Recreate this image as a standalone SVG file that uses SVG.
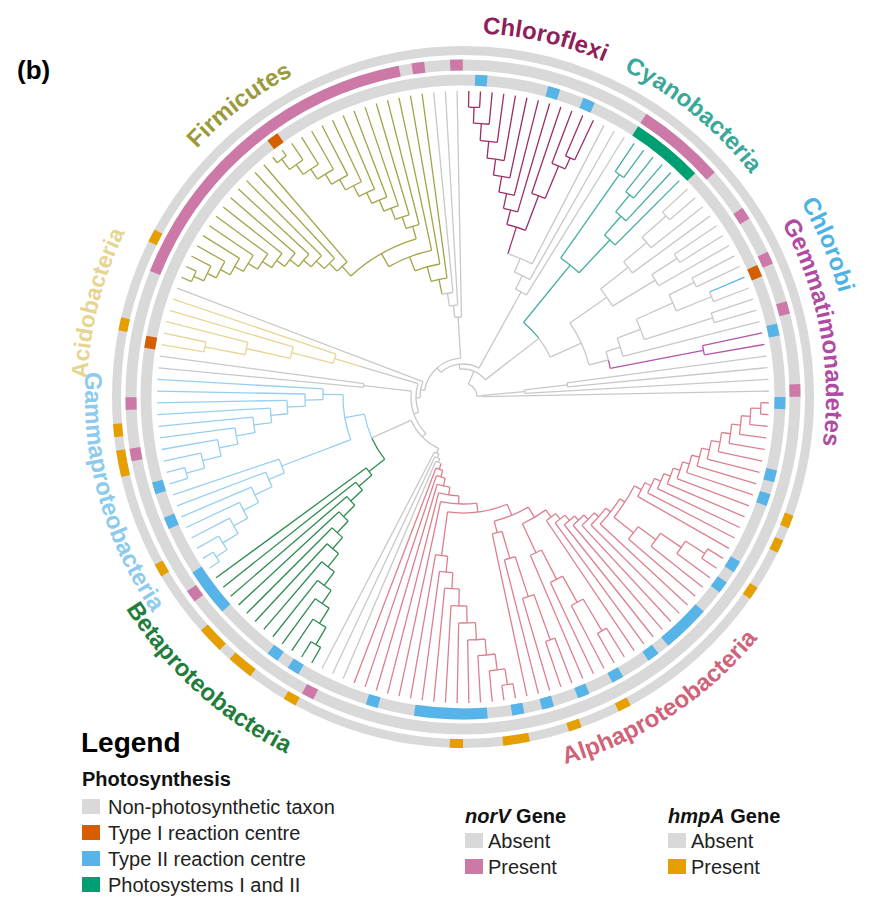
<svg xmlns="http://www.w3.org/2000/svg" width="880" height="924" viewBox="0 0 880 924">
<style>
text{font-family:"Liberation Sans",Arial,Helvetica,sans-serif}
.lab{font-size:24px;font-weight:bold}
#tree path,#tree circle{fill:none;stroke-width:1.3}
.rg{fill:none;stroke:#d9d9d9}
.lg{font-size:20px;fill:#222}
.lh{font-size:20px;font-weight:bold;fill:#111}
</style>
<defs>
<path id="cw364" d="M0 364A364 364 0 1 1 0 -364A364 364 0 1 1 0 364"/>
<path id="cw363" d="M0 363A363 363 0 1 1 0 -363A363 363 0 1 1 0 363"/>
<path id="cw376" d="M0 376A376 376 0 1 1 0 -376A376 376 0 1 1 0 376"/>
<path id="cw390" d="M0 390A390 390 0 1 1 0 -390A390 390 0 1 1 0 390"/>
<path id="ccw378" d="M0 -378A378 378 0 1 0 0 378A378 378 0 1 0 0 -378"/>
<path id="ccw398" d="M0 -398A398 398 0 1 0 0 398A398 398 0 1 0 0 -398"/>
<path id="ccw381" d="M0 -381A381 381 0 1 0 0 381A381 381 0 1 0 0 -381"/>
</defs>
<rect width="880" height="924" fill="#fff"/>
<text x="17" y="79" font-size="26" font-weight="bold">(b)</text>

<g id="tree" transform="translate(463 397)">
<g id="alpha" stroke="#dd7f8d">
<path d="M298 0H306" transform="rotate(1.1)"/><path d="M298 0H306" transform="rotate(3.3)"/><path d="M288 0H306" transform="rotate(5.49)"/><path d="M279 0H306" transform="rotate(7.69)"/><path d="M270 0H306" transform="rotate(9.88)"/><path d="M261 0H306" transform="rotate(12.08)"/><path d="M252 0H306" transform="rotate(14.27)"/><path d="M244 0H306" transform="rotate(16.47)"/><path d="M236 0H306" transform="rotate(18.66)"/><path d="M229 0H306" transform="rotate(20.86)"/><path d="M222 0H306" transform="rotate(23.05)"/><path d="M215 0H306" transform="rotate(25.25)"/><path d="M208 0H306" transform="rotate(27.44)"/><path d="M201 0H306" transform="rotate(29.64)"/><path d="M288 0H306" transform="rotate(31.83)"/><path d="M288 0H306" transform="rotate(34.03)"/><path d="M265 0H306" transform="rotate(36.22)"/><path d="M240 0H306" transform="rotate(38.42)"/><path d="M218 0H306" transform="rotate(40.61)"/><path d="M187 0H306" transform="rotate(42.81)"/><path d="M181 0H306" transform="rotate(45)"/><path d="M175 0H306" transform="rotate(47.2)"/><path d="M169 0H306" transform="rotate(49.39)"/><path d="M163 0H306" transform="rotate(51.59)"/><path d="M156 0H306" transform="rotate(53.78)"/><path d="M149 0H306" transform="rotate(55.98)"/><path d="M272 0H306" transform="rotate(58.17)"/><path d="M272 0H306" transform="rotate(60.37)"/><path d="M235 0H306" transform="rotate(62.56)"/><path d="M205 0H306" transform="rotate(64.76)"/><path d="M172 0H306" transform="rotate(66.95)"/><path d="M258 0H306" transform="rotate(69.15)"/><path d="M258 0H306" transform="rotate(71.34)"/><path d="M210 0H306" transform="rotate(73.54)"/><path d="M168 0H306" transform="rotate(75.73)"/><path d="M140 0H306" transform="rotate(77.93)"/><path d="M291 0H306" transform="rotate(80.12)"/><path d="M291 0H306" transform="rotate(82.32)"/><path d="M275 0H306" transform="rotate(84.51)"/><path d="M259 0H306" transform="rotate(86.71)"/><path d="M243 0H306" transform="rotate(88.9)"/><path d="M226 0H306" transform="rotate(91.1)"/><path d="M209 0H306" transform="rotate(93.29)"/><path d="M192 0H306" transform="rotate(95.49)"/><path d="M176 0H306" transform="rotate(97.68)"/><path d="M160 0H306" transform="rotate(99.88)"/><path d="M107 0H306" transform="rotate(102.07)"/><path d="M99 0H306" transform="rotate(104.27)"/><path d="M91 0H306" transform="rotate(106.46)"/><path d="M83 0H306" transform="rotate(108.66)"/><path d="M76 0H306" transform="rotate(110.85)"/>
<path d="M288 0H298" transform="rotate(2.2)"/><path d="M279 0H288" transform="rotate(3.85)"/><path d="M270 0H279" transform="rotate(5.77)"/><path d="M261 0H270" transform="rotate(7.82)"/><path d="M252 0H261" transform="rotate(9.95)"/><path d="M244 0H252" transform="rotate(12.11)"/><path d="M236 0H244" transform="rotate(14.29)"/><path d="M229 0H236" transform="rotate(16.48)"/><path d="M222 0H229" transform="rotate(18.67)"/><path d="M215 0H222" transform="rotate(20.86)"/><path d="M208 0H215" transform="rotate(23.05)"/><path d="M201 0H208" transform="rotate(25.25)"/><path d="M193 0H201" transform="rotate(27.44)"/><path d="M265 0H288" transform="rotate(32.93)"/><path d="M240 0H265" transform="rotate(34.58)"/><path d="M218 0H240" transform="rotate(36.5)"/><path d="M193 0H218" transform="rotate(38.55)"/><path d="M187 0H193" transform="rotate(33)"/><path d="M181 0H187" transform="rotate(37.9)"/><path d="M175 0H181" transform="rotate(41.45)"/><path d="M169 0H175" transform="rotate(44.32)"/><path d="M163 0H169" transform="rotate(46.86)"/><path d="M156 0H163" transform="rotate(49.22)"/><path d="M149 0H156" transform="rotate(51.5)"/><path d="M140 0H149" transform="rotate(53.74)"/><path d="M235 0H272" transform="rotate(59.27)"/><path d="M205 0H235" transform="rotate(60.92)"/><path d="M172 0H205" transform="rotate(62.84)"/><path d="M140 0H172" transform="rotate(64.89)"/><path d="M128 0H140" transform="rotate(59.32)"/><path d="M210 0H258" transform="rotate(70.24)"/><path d="M168 0H210" transform="rotate(71.89)"/><path d="M140 0H168" transform="rotate(73.81)"/><path d="M128 0H140" transform="rotate(75.87)"/><path d="M116 0H128" transform="rotate(67.59)"/><path d="M275 0H291" transform="rotate(81.22)"/><path d="M259 0H275" transform="rotate(82.87)"/><path d="M243 0H259" transform="rotate(84.79)"/><path d="M226 0H243" transform="rotate(86.84)"/><path d="M209 0H226" transform="rotate(88.97)"/><path d="M192 0H209" transform="rotate(91.13)"/><path d="M176 0H192" transform="rotate(93.31)"/><path d="M160 0H176" transform="rotate(95.5)"/><path d="M116 0H160" transform="rotate(97.69)"/><path d="M107 0H116" transform="rotate(82.64)"/><path d="M99 0H107" transform="rotate(92.36)"/><path d="M91 0H99" transform="rotate(98.31)"/><path d="M83 0H91" transform="rotate(102.39)"/><path d="M76 0H83" transform="rotate(105.52)"/><path d="M70 0H76" transform="rotate(108.19)"/>
<circle r="298" pathLength="360" stroke-dasharray="2.2 400" transform="rotate(1.1)"/><circle r="288" pathLength="360" stroke-dasharray="3.29 400" transform="rotate(2.2)"/><circle r="279" pathLength="360" stroke-dasharray="3.84 400" transform="rotate(3.85)"/><circle r="270" pathLength="360" stroke-dasharray="4.11 400" transform="rotate(5.77)"/><circle r="261" pathLength="360" stroke-dasharray="4.26 400" transform="rotate(7.82)"/><circle r="252" pathLength="360" stroke-dasharray="4.32 400" transform="rotate(9.95)"/><circle r="244" pathLength="360" stroke-dasharray="4.36 400" transform="rotate(12.11)"/><circle r="236" pathLength="360" stroke-dasharray="4.37 400" transform="rotate(14.29)"/><circle r="229" pathLength="360" stroke-dasharray="4.38 400" transform="rotate(16.48)"/><circle r="222" pathLength="360" stroke-dasharray="4.38 400" transform="rotate(18.67)"/><circle r="215" pathLength="360" stroke-dasharray="4.39 400" transform="rotate(20.86)"/><circle r="208" pathLength="360" stroke-dasharray="4.39 400" transform="rotate(23.05)"/><circle r="201" pathLength="360" stroke-dasharray="4.39 400" transform="rotate(25.25)"/><circle r="288" pathLength="360" stroke-dasharray="2.2 400" transform="rotate(31.83)"/><circle r="265" pathLength="360" stroke-dasharray="3.29 400" transform="rotate(32.93)"/><circle r="240" pathLength="360" stroke-dasharray="3.84 400" transform="rotate(34.58)"/><circle r="218" pathLength="360" stroke-dasharray="4.11 400" transform="rotate(36.5)"/><circle r="193" pathLength="360" stroke-dasharray="11.11 400" transform="rotate(27.44)"/><circle r="187" pathLength="360" stroke-dasharray="9.81 400" transform="rotate(33)"/><circle r="181" pathLength="360" stroke-dasharray="7.1 400" transform="rotate(37.9)"/><circle r="175" pathLength="360" stroke-dasharray="5.75 400" transform="rotate(41.45)"/><circle r="169" pathLength="360" stroke-dasharray="5.07 400" transform="rotate(44.32)"/><circle r="163" pathLength="360" stroke-dasharray="4.73 400" transform="rotate(46.86)"/><circle r="156" pathLength="360" stroke-dasharray="4.56 400" transform="rotate(49.22)"/><circle r="149" pathLength="360" stroke-dasharray="4.48 400" transform="rotate(51.5)"/><circle r="272" pathLength="360" stroke-dasharray="2.2 400" transform="rotate(58.17)"/><circle r="235" pathLength="360" stroke-dasharray="3.29 400" transform="rotate(59.27)"/><circle r="205" pathLength="360" stroke-dasharray="3.84 400" transform="rotate(60.92)"/><circle r="172" pathLength="360" stroke-dasharray="4.11 400" transform="rotate(62.84)"/><circle r="140" pathLength="360" stroke-dasharray="11.15 400" transform="rotate(53.74)"/><circle r="258" pathLength="360" stroke-dasharray="2.2 400" transform="rotate(69.15)"/><circle r="210" pathLength="360" stroke-dasharray="3.3 400" transform="rotate(70.24)"/><circle r="168" pathLength="360" stroke-dasharray="3.84 400" transform="rotate(71.89)"/><circle r="140" pathLength="360" stroke-dasharray="4.12 400" transform="rotate(73.81)"/><circle r="128" pathLength="360" stroke-dasharray="16.55 400" transform="rotate(59.32)"/><circle r="291" pathLength="360" stroke-dasharray="2.2 400" transform="rotate(80.12)"/><circle r="275" pathLength="360" stroke-dasharray="3.29 400" transform="rotate(81.22)"/><circle r="259" pathLength="360" stroke-dasharray="3.84 400" transform="rotate(82.87)"/><circle r="243" pathLength="360" stroke-dasharray="4.11 400" transform="rotate(84.79)"/><circle r="226" pathLength="360" stroke-dasharray="4.26 400" transform="rotate(86.84)"/><circle r="209" pathLength="360" stroke-dasharray="4.32 400" transform="rotate(88.97)"/><circle r="192" pathLength="360" stroke-dasharray="4.36 400" transform="rotate(91.13)"/><circle r="176" pathLength="360" stroke-dasharray="4.37 400" transform="rotate(93.31)"/><circle r="160" pathLength="360" stroke-dasharray="4.38 400" transform="rotate(95.5)"/><circle r="116" pathLength="360" stroke-dasharray="30.1 400" transform="rotate(67.59)"/><circle r="107" pathLength="360" stroke-dasharray="19.43 400" transform="rotate(82.64)"/><circle r="99" pathLength="360" stroke-dasharray="11.91 400" transform="rotate(92.36)"/><circle r="91" pathLength="360" stroke-dasharray="8.15 400" transform="rotate(98.31)"/><circle r="83" pathLength="360" stroke-dasharray="6.27 400" transform="rotate(102.39)"/><circle r="76" pathLength="360" stroke-dasharray="5.33 400" transform="rotate(105.52)"/>
</g>
<g id="beta" stroke="#2e8b4f">
<path d="M288 0H306" transform="rotate(119.63)"/><path d="M288 0H306" transform="rotate(121.83)"/><path d="M268 0H306" transform="rotate(124.02)"/><path d="M250 0H306" transform="rotate(126.22)"/><path d="M234 0H306" transform="rotate(128.41)"/><path d="M217 0H306" transform="rotate(130.61)"/><path d="M200 0H306" transform="rotate(132.8)"/><path d="M185 0H306" transform="rotate(135)"/><path d="M169 0H306" transform="rotate(137.19)"/><path d="M153 0H306" transform="rotate(139.39)"/><path d="M137 0H306" transform="rotate(141.58)"/><path d="M120 0H306" transform="rotate(143.78)"/>
<path d="M268 0H288" transform="rotate(120.73)"/><path d="M250 0H268" transform="rotate(122.38)"/><path d="M234 0H250" transform="rotate(124.3)"/><path d="M217 0H234" transform="rotate(126.35)"/><path d="M200 0H217" transform="rotate(128.48)"/><path d="M185 0H200" transform="rotate(130.64)"/><path d="M169 0H185" transform="rotate(132.82)"/><path d="M153 0H169" transform="rotate(135)"/><path d="M137 0H153" transform="rotate(137.19)"/><path d="M120 0H137" transform="rotate(139.39)"/><path d="M100 0H120" transform="rotate(141.58)"/>
<circle r="288" pathLength="360" stroke-dasharray="2.2 400" transform="rotate(119.63)"/><circle r="268" pathLength="360" stroke-dasharray="3.29 400" transform="rotate(120.73)"/><circle r="250" pathLength="360" stroke-dasharray="3.84 400" transform="rotate(122.38)"/><circle r="234" pathLength="360" stroke-dasharray="4.11 400" transform="rotate(124.3)"/><circle r="217" pathLength="360" stroke-dasharray="4.26 400" transform="rotate(126.35)"/><circle r="200" pathLength="360" stroke-dasharray="4.32 400" transform="rotate(128.48)"/><circle r="185" pathLength="360" stroke-dasharray="4.36 400" transform="rotate(130.64)"/><circle r="169" pathLength="360" stroke-dasharray="4.37 400" transform="rotate(132.82)"/><circle r="153" pathLength="360" stroke-dasharray="4.39 400" transform="rotate(135)"/><circle r="137" pathLength="360" stroke-dasharray="4.39 400" transform="rotate(137.19)"/><circle r="120" pathLength="360" stroke-dasharray="4.39 400" transform="rotate(139.39)"/><circle r="100" pathLength="360" stroke-dasharray="14.27 400" transform="rotate(141.58)"/>
</g>
<g id="gamma" stroke="#96cfee">
<path d="M294 0H306" transform="rotate(145.97)"/><path d="M294 0H306" transform="rotate(148.17)"/><path d="M281 0H306" transform="rotate(150.36)"/><path d="M263 0H306" transform="rotate(152.56)"/><path d="M247 0H306" transform="rotate(154.75)"/><path d="M230 0H306" transform="rotate(156.95)"/><path d="M211 0H306" transform="rotate(159.14)"/><path d="M194 0H306" transform="rotate(161.34)"/><path d="M287 0H306" transform="rotate(163.53)"/><path d="M287 0H306" transform="rotate(165.73)"/><path d="M268 0H306" transform="rotate(167.92)"/><path d="M249 0H306" transform="rotate(170.12)"/><path d="M230 0H306" transform="rotate(172.31)"/><path d="M211 0H306" transform="rotate(174.51)"/><path d="M193 0H306" transform="rotate(176.7)"/><path d="M176 0H306" transform="rotate(178.9)"/><path d="M158 0H306" transform="rotate(181.09)"/><path d="M140 0H306" transform="rotate(183.29)"/>
<path d="M281 0H294" transform="rotate(147.07)"/><path d="M263 0H281" transform="rotate(148.72)"/><path d="M247 0H263" transform="rotate(150.64)"/><path d="M230 0H247" transform="rotate(152.69)"/><path d="M211 0H230" transform="rotate(154.82)"/><path d="M194 0H211" transform="rotate(156.98)"/><path d="M120 0H194" transform="rotate(159.16)"/><path d="M268 0H287" transform="rotate(164.63)"/><path d="M249 0H268" transform="rotate(166.28)"/><path d="M230 0H249" transform="rotate(168.2)"/><path d="M211 0H230" transform="rotate(170.25)"/><path d="M193 0H211" transform="rotate(172.38)"/><path d="M176 0H193" transform="rotate(174.54)"/><path d="M158 0H176" transform="rotate(176.72)"/><path d="M140 0H158" transform="rotate(178.9)"/><path d="M120 0H140" transform="rotate(181.09)"/><path d="M100 0H120" transform="rotate(170.13)"/>
<circle r="294" pathLength="360" stroke-dasharray="2.2 400" transform="rotate(145.97)"/><circle r="281" pathLength="360" stroke-dasharray="3.29 400" transform="rotate(147.07)"/><circle r="263" pathLength="360" stroke-dasharray="3.84 400" transform="rotate(148.72)"/><circle r="247" pathLength="360" stroke-dasharray="4.11 400" transform="rotate(150.64)"/><circle r="230" pathLength="360" stroke-dasharray="4.26 400" transform="rotate(152.69)"/><circle r="211" pathLength="360" stroke-dasharray="4.32 400" transform="rotate(154.82)"/><circle r="194" pathLength="360" stroke-dasharray="4.36 400" transform="rotate(156.98)"/><circle r="287" pathLength="360" stroke-dasharray="2.2 400" transform="rotate(163.53)"/><circle r="268" pathLength="360" stroke-dasharray="3.29 400" transform="rotate(164.63)"/><circle r="249" pathLength="360" stroke-dasharray="3.84 400" transform="rotate(166.28)"/><circle r="230" pathLength="360" stroke-dasharray="4.11 400" transform="rotate(168.2)"/><circle r="211" pathLength="360" stroke-dasharray="4.26 400" transform="rotate(170.25)"/><circle r="193" pathLength="360" stroke-dasharray="4.32 400" transform="rotate(172.38)"/><circle r="176" pathLength="360" stroke-dasharray="4.36 400" transform="rotate(174.54)"/><circle r="158" pathLength="360" stroke-dasharray="4.37 400" transform="rotate(176.72)"/><circle r="140" pathLength="360" stroke-dasharray="4.39 400" transform="rotate(178.9)"/><circle r="120" pathLength="360" stroke-dasharray="21.93 400" transform="rotate(159.16)"/><circle r="100" pathLength="360" stroke-dasharray="14.28 400" transform="rotate(155.85)"/>
</g>
<g id="acidobacteria" stroke="#e6d695">
<path d="M263 0H306" transform="rotate(189.87)"/><path d="M263 0H306" transform="rotate(192.07)"/><path d="M222 0H306" transform="rotate(194.26)"/><path d="M177 0H306" transform="rotate(196.46)"/><path d="M134 0H306" transform="rotate(198.65)"/>
<path d="M222 0H263" transform="rotate(190.97)"/><path d="M177 0H222" transform="rotate(192.6)"/><path d="M134 0H177" transform="rotate(194.53)"/><path d="M108 0H134" transform="rotate(196.59)"/>
<circle r="263" pathLength="360" stroke-dasharray="2.2 400" transform="rotate(189.87)"/><circle r="222" pathLength="360" stroke-dasharray="3.29 400" transform="rotate(190.97)"/><circle r="177" pathLength="360" stroke-dasharray="3.86 400" transform="rotate(192.6)"/><circle r="134" pathLength="360" stroke-dasharray="4.12 400" transform="rotate(194.53)"/>
</g>
<g id="firmicutes" stroke="#a4a348">
<path d="M295 0H306" transform="rotate(203.04)"/><path d="M295 0H306" transform="rotate(205.24)"/><path d="M284 0H306" transform="rotate(207.43)"/><path d="M274 0H306" transform="rotate(209.63)"/><path d="M263 0H306" transform="rotate(211.82)"/><path d="M253 0H306" transform="rotate(214.02)"/><path d="M242 0H306" transform="rotate(216.21)"/><path d="M231 0H306" transform="rotate(218.41)"/><path d="M221 0H306" transform="rotate(220.6)"/><path d="M210 0H306" transform="rotate(222.8)"/><path d="M200 0H306" transform="rotate(224.99)"/><path d="M189 0H306" transform="rotate(227.19)"/><path d="M178 0H306" transform="rotate(229.38)"/><path d="M299 0H306" transform="rotate(231.58)"/><path d="M299 0H306" transform="rotate(233.77)"/><path d="M286 0H306" transform="rotate(235.97)"/><path d="M274 0H306" transform="rotate(238.16)"/><path d="M262 0H306" transform="rotate(240.36)"/><path d="M250 0H306" transform="rotate(242.55)"/><path d="M238 0H306" transform="rotate(244.75)"/><path d="M226 0H306" transform="rotate(246.94)"/><path d="M214 0H306" transform="rotate(249.14)"/><path d="M202 0H306" transform="rotate(251.33)"/><path d="M190 0H306" transform="rotate(253.53)"/><path d="M178 0H306" transform="rotate(255.72)"/><path d="M150 0H306" transform="rotate(257.92)"/><path d="M135 0H306" transform="rotate(260.11)"/><path d="M120 0H306" transform="rotate(262.31)"/>
<path d="M284 0H295" transform="rotate(204.14)"/><path d="M274 0H284" transform="rotate(205.79)"/><path d="M263 0H274" transform="rotate(207.71)"/><path d="M253 0H263" transform="rotate(209.76)"/><path d="M242 0H253" transform="rotate(211.89)"/><path d="M231 0H242" transform="rotate(214.05)"/><path d="M221 0H231" transform="rotate(216.23)"/><path d="M210 0H221" transform="rotate(218.42)"/><path d="M200 0H210" transform="rotate(220.6)"/><path d="M189 0H200" transform="rotate(222.8)"/><path d="M178 0H189" transform="rotate(224.99)"/><path d="M165 0H178" transform="rotate(227.19)"/><path d="M286 0H299" transform="rotate(232.67)"/><path d="M274 0H286" transform="rotate(234.32)"/><path d="M262 0H274" transform="rotate(236.24)"/><path d="M250 0H262" transform="rotate(238.3)"/><path d="M238 0H250" transform="rotate(240.43)"/><path d="M226 0H238" transform="rotate(242.59)"/><path d="M214 0H226" transform="rotate(244.76)"/><path d="M202 0H214" transform="rotate(246.95)"/><path d="M190 0H202" transform="rotate(249.14)"/><path d="M178 0H190" transform="rotate(251.33)"/><path d="M165 0H178" transform="rotate(253.53)"/><path d="M150 0H165" transform="rotate(240.36)"/><path d="M135 0H150" transform="rotate(249.14)"/><path d="M120 0H135" transform="rotate(254.62)"/><path d="M105 0H120" transform="rotate(258.46)"/>
<circle r="295" pathLength="360" stroke-dasharray="2.2 400" transform="rotate(203.04)"/><circle r="284" pathLength="360" stroke-dasharray="3.29 400" transform="rotate(204.14)"/><circle r="274" pathLength="360" stroke-dasharray="3.84 400" transform="rotate(205.79)"/><circle r="263" pathLength="360" stroke-dasharray="4.11 400" transform="rotate(207.71)"/><circle r="253" pathLength="360" stroke-dasharray="4.26 400" transform="rotate(209.76)"/><circle r="242" pathLength="360" stroke-dasharray="4.32 400" transform="rotate(211.89)"/><circle r="231" pathLength="360" stroke-dasharray="4.36 400" transform="rotate(214.05)"/><circle r="221" pathLength="360" stroke-dasharray="4.37 400" transform="rotate(216.23)"/><circle r="210" pathLength="360" stroke-dasharray="4.38 400" transform="rotate(218.42)"/><circle r="200" pathLength="360" stroke-dasharray="4.39 400" transform="rotate(220.6)"/><circle r="189" pathLength="360" stroke-dasharray="4.39 400" transform="rotate(222.8)"/><circle r="178" pathLength="360" stroke-dasharray="4.39 400" transform="rotate(224.99)"/><circle r="299" pathLength="360" stroke-dasharray="2.2 400" transform="rotate(231.58)"/><circle r="286" pathLength="360" stroke-dasharray="3.3 400" transform="rotate(232.67)"/><circle r="274" pathLength="360" stroke-dasharray="3.84 400" transform="rotate(234.32)"/><circle r="262" pathLength="360" stroke-dasharray="4.12 400" transform="rotate(236.24)"/><circle r="250" pathLength="360" stroke-dasharray="4.25 400" transform="rotate(238.3)"/><circle r="238" pathLength="360" stroke-dasharray="4.32 400" transform="rotate(240.43)"/><circle r="226" pathLength="360" stroke-dasharray="4.36 400" transform="rotate(242.59)"/><circle r="214" pathLength="360" stroke-dasharray="4.38 400" transform="rotate(244.76)"/><circle r="202" pathLength="360" stroke-dasharray="4.38 400" transform="rotate(246.95)"/><circle r="190" pathLength="360" stroke-dasharray="4.39 400" transform="rotate(249.14)"/><circle r="178" pathLength="360" stroke-dasharray="4.39 400" transform="rotate(251.33)"/><circle r="165" pathLength="360" stroke-dasharray="26.34 400" transform="rotate(227.19)"/><circle r="150" pathLength="360" stroke-dasharray="17.56 400" transform="rotate(240.36)"/><circle r="135" pathLength="360" stroke-dasharray="10.98 400" transform="rotate(249.14)"/><circle r="120" pathLength="360" stroke-dasharray="7.69 400" transform="rotate(254.62)"/>
</g>
<g id="chloroflexi" stroke="#9b2d68">
<path d="M290 0H306" transform="rotate(271.09)"/><path d="M290 0H306" transform="rotate(273.28)"/><path d="M274 0H306" transform="rotate(275.48)"/><path d="M257 0H306" transform="rotate(277.67)"/><path d="M240 0H306" transform="rotate(279.87)"/><path d="M224 0H306" transform="rotate(282.06)"/><path d="M208 0H306" transform="rotate(284.26)"/><path d="M193 0H306" transform="rotate(286.45)"/><path d="M215 0H306" transform="rotate(288.65)"/><path d="M250 0H306" transform="rotate(290.84)"/><path d="M262 0H306" transform="rotate(293.04)"/><path d="M262 0H306" transform="rotate(295.23)"/>
<path d="M274 0H290" transform="rotate(272.18)"/><path d="M257 0H274" transform="rotate(273.83)"/><path d="M240 0H257" transform="rotate(275.75)"/><path d="M224 0H240" transform="rotate(277.81)"/><path d="M208 0H224" transform="rotate(279.94)"/><path d="M193 0H208" transform="rotate(282.1)"/><path d="M178 0H193" transform="rotate(284.27)"/><path d="M250 0H262" transform="rotate(294.13)"/><path d="M215 0H250" transform="rotate(292.49)"/><path d="M178 0H215" transform="rotate(290.57)"/><path d="M150 0H178" transform="rotate(287.42)"/>
<circle r="290" pathLength="360" stroke-dasharray="2.2 400" transform="rotate(271.09)"/><circle r="274" pathLength="360" stroke-dasharray="3.3 400" transform="rotate(272.18)"/><circle r="257" pathLength="360" stroke-dasharray="3.84 400" transform="rotate(273.83)"/><circle r="240" pathLength="360" stroke-dasharray="4.12 400" transform="rotate(275.75)"/><circle r="224" pathLength="360" stroke-dasharray="4.25 400" transform="rotate(277.81)"/><circle r="208" pathLength="360" stroke-dasharray="4.32 400" transform="rotate(279.94)"/><circle r="193" pathLength="360" stroke-dasharray="4.35 400" transform="rotate(282.1)"/><circle r="262" pathLength="360" stroke-dasharray="2.19 400" transform="rotate(293.04)"/><circle r="250" pathLength="360" stroke-dasharray="3.29 400" transform="rotate(290.84)"/><circle r="215" pathLength="360" stroke-dasharray="3.84 400" transform="rotate(288.65)"/><circle r="178" pathLength="360" stroke-dasharray="6.3 400" transform="rotate(284.27)"/>
</g>
<g id="cyanobacteria" stroke="#43ad9f">
<path d="M272 0H306" transform="rotate(304.01)"/><path d="M272 0H306" transform="rotate(306.21)"/><path d="M262 0H306" transform="rotate(308.4)"/><path d="M262 0H306" transform="rotate(310.6)"/><path d="M240 0H306" transform="rotate(312.79)"/><path d="M215 0H306" transform="rotate(314.99)"/>
<path d="M170 0H272" transform="rotate(305.11)"/><path d="M240 0H262" transform="rotate(309.5)"/><path d="M215 0H240" transform="rotate(311.15)"/><path d="M170 0H215" transform="rotate(313.07)"/><path d="M96 0H170" transform="rotate(309.09)"/>
<circle r="272" pathLength="360" stroke-dasharray="2.2 400" transform="rotate(304.01)"/><circle r="262" pathLength="360" stroke-dasharray="2.2 400" transform="rotate(308.4)"/><circle r="240" pathLength="360" stroke-dasharray="3.29 400" transform="rotate(309.5)"/><circle r="215" pathLength="360" stroke-dasharray="3.84 400" transform="rotate(311.15)"/><circle r="170" pathLength="360" stroke-dasharray="7.96 400" transform="rotate(305.11)"/><circle r="96" pathLength="360" stroke-dasharray="13.2 400" transform="rotate(309.09)"/>
</g>
<g id="chlorobi" stroke="#56b4e9">
<path d="M268 0H306" transform="rotate(336.94)"/>
</g>
<g id="gemmatimonadetes" stroke="#b455a8">
<path d="M245 0H306" transform="rotate(347.91)"/><path d="M245 0H306" transform="rotate(350.11)"/><path d="M150 0H245" transform="rotate(349.01)"/>
<circle r="245" pathLength="360" stroke-dasharray="2.2 400" transform="rotate(347.91)"/><circle r="150" pathLength="360" stroke-dasharray="3.29 400" transform="rotate(345.72)"/>
</g>
<g id="unclassified" stroke="#c8c8c8">
<path d="M70 0H306" transform="rotate(113.05)"/><path d="M66 0H306" transform="rotate(115.24)"/><path d="M62 0H306" transform="rotate(117.44)"/>
<path d="M66 0H70" transform="rotate(110.62)"/><path d="M62 0H66" transform="rotate(112.93)"/><path d="M57 0H62" transform="rotate(115.18)"/>
<circle r="70" pathLength="360" stroke-dasharray="4.86 400" transform="rotate(108.19)"/><circle r="66" pathLength="360" stroke-dasharray="4.62 400" transform="rotate(110.62)"/><circle r="62" pathLength="360" stroke-dasharray="4.51 400" transform="rotate(112.93)"/>
<path d="M57 0H100" transform="rotate(155.85)"/>
<path d="M100 0H306" transform="rotate(185.48)"/><path d="M100 0H306" transform="rotate(187.68)"/><circle r="100" pathLength="360" stroke-dasharray="2.2 400" transform="rotate(185.48)"/><path d="M52 0H100" transform="rotate(186.58)"/>
<path d="M47 0H108" transform="rotate(196.59)"/>
<path d="M43 0H306" transform="rotate(200.85)"/>
<path d="M105 0H306" transform="rotate(264.5)"/><path d="M92 0H306" transform="rotate(266.7)"/><path d="M80 0H306" transform="rotate(268.89)"/>
<path d="M92 0H105" transform="rotate(261.48)"/><path d="M80 0H92" transform="rotate(264.09)"/><path d="M39 0H80" transform="rotate(266.49)"/>
<circle r="105" pathLength="360" stroke-dasharray="6.04 400" transform="rotate(258.46)"/><circle r="92" pathLength="360" stroke-dasharray="5.22 400" transform="rotate(261.48)"/><circle r="80" pathLength="360" stroke-dasharray="4.8 400" transform="rotate(264.09)"/>
<path d="M150 0H306" transform="rotate(297.43)"/><path d="M135 0H306" transform="rotate(299.62)"/><path d="M120 0H306" transform="rotate(301.82)"/>
<path d="M135 0H150" transform="rotate(292.42)"/><path d="M120 0H135" transform="rotate(296.02)"/><path d="M33 0H120" transform="rotate(298.92)"/>
<circle r="150" pathLength="360" stroke-dasharray="10.01 400" transform="rotate(287.42)"/><circle r="135" pathLength="360" stroke-dasharray="7.2 400" transform="rotate(292.42)"/><circle r="120" pathLength="360" stroke-dasharray="5.8 400" transform="rotate(296.02)"/>
<path d="M272 0H306" transform="rotate(317.18)"/><path d="M272 0H306" transform="rotate(319.38)"/><path d="M240 0H306" transform="rotate(321.57)"/><path d="M210 0H306" transform="rotate(323.77)"/><path d="M255 0H306" transform="rotate(325.96)"/><path d="M255 0H306" transform="rotate(328.16)"/><path d="M225 0H306" transform="rotate(330.35)"/><path d="M258 0H306" transform="rotate(332.55)"/><path d="M258 0H306" transform="rotate(334.74)"/><path d="M268 0H306" transform="rotate(339.13)"/><path d="M262 0H306" transform="rotate(341.33)"/><path d="M262 0H306" transform="rotate(343.52)"/><path d="M165 0H306" transform="rotate(345.72)"/><path d="M105 0H306" transform="rotate(352.3)"/><path d="M105 0H306" transform="rotate(354.5)"/><path d="M62 0H306" transform="rotate(356.69)"/><path d="M20 0H306" transform="rotate(358.89)"/>
<path d="M240 0H272" transform="rotate(318.28)"/><path d="M210 0H240" transform="rotate(319.93)"/><path d="M175 0H210" transform="rotate(321.85)"/><path d="M225 0H255" transform="rotate(327.06)"/><path d="M175 0H225" transform="rotate(328.71)"/><path d="M130 0H175" transform="rotate(325.28)"/><path d="M230 0H258" transform="rotate(333.64)"/><path d="M230 0H268" transform="rotate(338.03)"/><path d="M190 0H230" transform="rotate(335.84)"/><path d="M190 0H262" transform="rotate(342.42)"/><path d="M165 0H190" transform="rotate(339.13)"/><path d="M150 0H165" transform="rotate(342.42)"/><path d="M130 0H150" transform="rotate(345.72)"/><path d="M96 0H130" transform="rotate(335.5)"/><path d="M28 0H96" transform="rotate(322.3)"/><path d="M62 0H105" transform="rotate(353.4)"/><path d="M20 0H62" transform="rotate(355.05)"/><path d="M14 0H20" transform="rotate(356.97)"/>
<circle r="272" pathLength="360" stroke-dasharray="2.2 400" transform="rotate(317.18)"/><circle r="240" pathLength="360" stroke-dasharray="3.29 400" transform="rotate(318.28)"/><circle r="210" pathLength="360" stroke-dasharray="3.84 400" transform="rotate(319.93)"/><circle r="255" pathLength="360" stroke-dasharray="2.2 400" transform="rotate(325.96)"/><circle r="225" pathLength="360" stroke-dasharray="3.29 400" transform="rotate(327.06)"/><circle r="175" pathLength="360" stroke-dasharray="6.86 400" transform="rotate(321.85)"/><circle r="258" pathLength="360" stroke-dasharray="2.19 400" transform="rotate(332.55)"/><circle r="268" pathLength="360" stroke-dasharray="2.19 400" transform="rotate(336.94)"/><circle r="230" pathLength="360" stroke-dasharray="4.39 400" transform="rotate(333.64)"/><circle r="262" pathLength="360" stroke-dasharray="2.19 400" transform="rotate(341.33)"/><circle r="190" pathLength="360" stroke-dasharray="6.58 400" transform="rotate(335.84)"/><circle r="165" pathLength="360" stroke-dasharray="6.59 400" transform="rotate(339.13)"/><circle r="150" pathLength="360" stroke-dasharray="3.3 400" transform="rotate(342.42)"/><circle r="130" pathLength="360" stroke-dasharray="20.44 400" transform="rotate(325.28)"/><circle r="96" pathLength="360" stroke-dasharray="13.2 400" transform="rotate(322.3)"/><circle r="105" pathLength="360" stroke-dasharray="2.2 400" transform="rotate(352.3)"/><circle r="62" pathLength="360" stroke-dasharray="3.29 400" transform="rotate(353.4)"/><circle r="20" pathLength="360" stroke-dasharray="3.84 400" transform="rotate(355.05)"/>
<circle r="57" pathLength="360" stroke-dasharray="40.67 400" transform="rotate(115.18)"/><path d="M52 0H57" transform="rotate(135.52)"/>
<circle r="52" pathLength="360" stroke-dasharray="51.06 400" transform="rotate(135.52)"/><path d="M47 0H52" transform="rotate(161.05)"/>
<circle r="47" pathLength="360" stroke-dasharray="35.54 400" transform="rotate(161.05)"/><path d="M43 0H47" transform="rotate(178.82)"/>
<circle r="43" pathLength="360" stroke-dasharray="22.03 400" transform="rotate(178.82)"/><path d="M39 0H43" transform="rotate(189.83)"/>
<circle r="39" pathLength="360" stroke-dasharray="76.66 400" transform="rotate(189.83)"/><path d="M33 0H39" transform="rotate(228.16)"/>
<circle r="33" pathLength="360" stroke-dasharray="70.76 400" transform="rotate(228.16)"/><path d="M28 0H33" transform="rotate(263.54)"/>
<circle r="28" pathLength="360" stroke-dasharray="58.76 400" transform="rotate(263.54)"/><path d="M14 0H28" transform="rotate(292.92)"/>
<circle r="14" pathLength="360" stroke-dasharray="64.05 400" transform="rotate(292.92)"/>
</g>
</g>

<g id="rings" transform="translate(463 397)" fill="none">
<circle class="rg" r="317" stroke-width="11"/>
<circle class="rg" r="332" stroke-width="11"/>
<circle class="rg" r="346.5" stroke-width="9"/>
<g id="photosynthesis-ring" stroke-width="11">
<g stroke="#56b4e9">
<circle r="317" pathLength="360" stroke-dasharray="2.2 400" transform="rotate(0)"/><circle r="317" pathLength="360" stroke-dasharray="2.2 400" transform="rotate(13.17)"/><circle r="317" pathLength="360" stroke-dasharray="2.2 400" transform="rotate(17.56)"/><circle r="317" pathLength="360" stroke-dasharray="2.2 400" transform="rotate(30.73)"/><circle r="317" pathLength="360" stroke-dasharray="2.2 400" transform="rotate(35.12)"/><circle r="317" pathLength="360" stroke-dasharray="8.78 400" transform="rotate(41.71)"/><circle r="317" pathLength="360" stroke-dasharray="2.2 400" transform="rotate(52.68)"/><circle r="317" pathLength="360" stroke-dasharray="2.2 400" transform="rotate(60.2)"/><circle r="317" pathLength="360" stroke-dasharray="2.2 400" transform="rotate(66.9)"/><circle r="317" pathLength="360" stroke-dasharray="2.2 400" transform="rotate(73.6)"/><circle r="317" pathLength="360" stroke-dasharray="2.2 400" transform="rotate(79.02)"/><circle r="317" pathLength="360" stroke-dasharray="13.17 400" transform="rotate(85.61)"/><circle r="317" pathLength="360" stroke-dasharray="2.2 400" transform="rotate(105.36)"/><circle r="317" pathLength="360" stroke-dasharray="2.2 400" transform="rotate(120.73)"/><circle r="317" pathLength="360" stroke-dasharray="2.2 400" transform="rotate(125.12)"/><circle r="317" pathLength="360" stroke-dasharray="8.78 400" transform="rotate(138.29)"/><circle r="317" pathLength="360" stroke-dasharray="2.2 400" transform="rotate(155.85)"/><circle r="317" pathLength="360" stroke-dasharray="2.2 400" transform="rotate(162.43)"/><circle r="317" pathLength="360" stroke-dasharray="2.2 400" transform="rotate(272.18)"/><circle r="317" pathLength="360" stroke-dasharray="2.2 400" transform="rotate(285.35)"/><circle r="317" pathLength="360" stroke-dasharray="2.2 400" transform="rotate(291.94)"/><circle r="317" pathLength="360" stroke-dasharray="2.2 400" transform="rotate(346.81)"/>
</g>
<circle r="317" stroke="#009e73" pathLength="360" stroke-dasharray="13.17 400" transform="rotate(302.91)"/>
<g stroke="#d55e00">
<circle r="317" pathLength="360" stroke-dasharray="2.2 400" transform="rotate(188.77)"/><circle r="317" pathLength="360" stroke-dasharray="2.2 400" transform="rotate(232.67)"/><circle r="317" pathLength="360" stroke-dasharray="2.2 400" transform="rotate(335.84)"/>
</g>
</g>
<g id="norV-ring" stroke-width="11" stroke="#cc79a7">
<circle r="332" pathLength="360" stroke-dasharray="57.07 400" transform="rotate(201.94)"/><circle r="332" pathLength="360" stroke-dasharray="2.2 400" transform="rotate(261.21)"/><circle r="332" pathLength="360" stroke-dasharray="2.2 400" transform="rotate(267.79)"/><circle r="332" pathLength="360" stroke-dasharray="15.37 400" transform="rotate(302.91)"/><circle r="332" pathLength="360" stroke-dasharray="2.2 400" transform="rotate(325.9)"/><circle r="332" pathLength="360" stroke-dasharray="2.2 400" transform="rotate(334.5)"/><circle r="332" pathLength="360" stroke-dasharray="2.2 400" transform="rotate(343.5)"/><circle r="332" pathLength="360" stroke-dasharray="2.2 400" transform="rotate(357.79)"/><circle r="332" pathLength="360" stroke-dasharray="2.2 400" transform="rotate(116.34)"/><circle r="332" pathLength="360" stroke-dasharray="2.2 400" transform="rotate(142.68)"/><circle r="332" pathLength="360" stroke-dasharray="2.2 400" transform="rotate(169.02)"/><circle r="332" pathLength="360" stroke-dasharray="2.2 400" transform="rotate(177.8)"/>
</g>
<g id="hmpA-ring" stroke-width="9" stroke="#e69f00">
<circle r="346.5" pathLength="360" stroke-dasharray="2.2 400" transform="rotate(206.33)"/><circle r="346.5" pathLength="360" stroke-dasharray="2.2 400" transform="rotate(190.97)"/><circle r="346.5" pathLength="360" stroke-dasharray="2.2 400" transform="rotate(173.41)"/><circle r="346.5" pathLength="360" stroke-dasharray="4.39 400" transform="rotate(166.82)"/><circle r="346.5" pathLength="360" stroke-dasharray="2.2 400" transform="rotate(149.26)"/><circle r="346.5" pathLength="360" stroke-dasharray="4.39 400" transform="rotate(133.9)"/><circle r="346.5" pathLength="360" stroke-dasharray="4.39 400" transform="rotate(127.31)"/><circle r="346.5" pathLength="360" stroke-dasharray="2.2 400" transform="rotate(118.53)"/><circle r="346.5" pathLength="360" stroke-dasharray="2.2 400" transform="rotate(90)"/><circle r="346.5" pathLength="360" stroke-dasharray="4.39 400" transform="rotate(79.02)"/><circle r="346.5" pathLength="360" stroke-dasharray="2.2 400" transform="rotate(70.24)"/><circle r="346.5" pathLength="360" stroke-dasharray="2.2 400" transform="rotate(61.46)"/><circle r="346.5" pathLength="360" stroke-dasharray="2.2 400" transform="rotate(32.93)"/><circle r="346.5" pathLength="360" stroke-dasharray="2.2 400" transform="rotate(24.15)"/><circle r="346.5" pathLength="360" stroke-dasharray="2.2 400" transform="rotate(19.76)"/>
</g>
</g>

<g id="clade-labels" class="lab" transform="translate(463 397)" text-anchor="middle">
<text fill="#9a9a3a"><textPath href="#cw364" startOffset="39.6%">Firmicutes</textPath></text>
<text fill="#8e1f5b"><textPath href="#cw364" startOffset="53.6%">Chloroflexi</textPath></text>
<text fill="#3aa898"><textPath href="#cw364" startOffset="60.9%">Cyanobacteria</textPath></text>
<text fill="#4db3e6"><textPath href="#cw390" startOffset="68.7%">Chlorobi</textPath></text>
<text fill="#b04aa3"><textPath href="#cw363" startOffset="72.1%">Gemmatimonadetes</textPath></text>
<text fill="#e6d591" font-size="23"><textPath href="#cw376" startOffset="29%">Acidobacteria</textPath></text>
<text fill="#8ccbee"><textPath href="#ccw378" startOffset="29.3%">Gammaproteobacteria</textPath></text>
<text fill="#1f7d3c"><textPath href="#ccw398" startOffset="38.3%">Betaproteobacteria</textPath></text>
<text fill="#d0627a"><textPath href="#ccw381" startOffset="59.2%">Alphaproteobacteria</textPath></text>
</g>

<g id="legend">
<text x="81" y="752" font-size="28" font-weight="bold">Legend</text>
<text class="lh" x="82" y="786">Photosynthesis</text>
<rect x="82" y="799" width="18" height="15" fill="#d9d9d9"/><text class="lg" x="108" y="814">Non-photosynthetic taxon</text>
<rect x="82" y="825" width="18" height="15" fill="#d55e00"/><text class="lg" x="108" y="840">Type I reaction centre</text>
<rect x="82" y="851" width="18" height="15" fill="#56b4e9"/><text class="lg" x="108" y="866">Type II reaction centre</text>
<rect x="82" y="877" width="18" height="15" fill="#009e73"/><text class="lg" x="108" y="892">Photosystems I and II</text>
<text class="lh" x="465" y="823"><tspan font-style="italic">norV</tspan> Gene</text>
<rect x="465" y="833" width="18" height="15" fill="#d9d9d9"/><text class="lg" x="488" y="848">Absent</text>
<rect x="465" y="859" width="18" height="15" fill="#cc79a7"/><text class="lg" x="488" y="874">Present</text>
<text class="lh" x="668" y="823"><tspan font-style="italic">hmpA</tspan> Gene</text>
<rect x="668" y="833" width="18" height="15" fill="#d9d9d9"/><text class="lg" x="691" y="848">Absent</text>
<rect x="668" y="859" width="18" height="15" fill="#e69f00"/><text class="lg" x="691" y="874">Present</text>
</g>
</svg>
